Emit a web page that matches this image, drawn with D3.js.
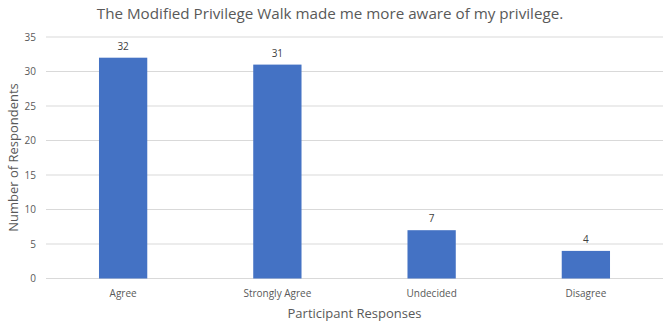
<!DOCTYPE html>
<html>
<head>
<meta charset="utf-8">
<script src="https://cdn.jsdelivr.net/npm/d3@7"></script>
<style>
html,body{margin:0;padding:0;background:#fff;}
svg{display:block;}
text{font-family:"Open Sans","Noto Sans",sans-serif;}
</style>
</head>
<body>
<svg id="chart" width="669" height="325"></svg>
<script>
const categories = ["Agree", "Strongly Agree", "Undecided", "Disagree"];
const values = [32, 31, 7, 4];
const yTicks = [0, 5, 10, 15, 20, 25, 30, 35];
const title = "The Modified Privilege Walk made me more aware of my privilege.";
const xTitle = "Participant Responses";
const yTitle = "Number of Respondents";

const svg = d3.select("#chart");
const m = {left: 46, right: 6, top: 37, bottom: 46.5};
const W = 669, H = 325;

const x = d3.scaleBand().domain(categories).range([m.left, W - m.right])
  .paddingInner(0.687).paddingOuter(0.3435);
const y = d3.scaleLinear().domain([0, 35]).range([H - m.bottom, m.top]);

// gridlines
svg.append("g").selectAll("line").data(yTicks).join("line")
  .attr("x1", m.left).attr("x2", W - m.right)
  .attr("y1", d => y(d)).attr("y2", d => y(d))
  .attr("stroke", "#d9d9d9").attr("stroke-width", 1);

// y tick labels
svg.append("g").selectAll("text").data(yTicks).join("text")
  .attr("x", 36).attr("y", d => y(d)).attr("dy", "0.35em")
  .attr("text-anchor", "end").attr("font-size", 10).attr("fill", "#595959")
  .text(d => d);

// bars
svg.append("g").selectAll("rect").data(values).join("rect")
  .attr("x", (d, i) => x(categories[i])).attr("width", x.bandwidth())
  .attr("y", d => y(d)).attr("height", d => y(0) - y(d))
  .attr("fill", "#4472c4");

// value labels
svg.append("g").selectAll("text").data(values).join("text")
  .attr("x", (d, i) => x(categories[i]) + x.bandwidth() / 2)
  .attr("y", d => y(d) - 8)
  .attr("text-anchor", "middle").attr("font-size", 10).attr("fill", "#404040")
  .text(d => d);

// category labels
svg.append("g").selectAll("text").data(categories).join("text")
  .attr("x", d => x(d) + x.bandwidth() / 2).attr("y", y(0) + 15).attr("dy", "0.35em")
  .attr("text-anchor", "middle").attr("font-size", 10).attr("fill", "#595959")
  .text(d => d);

// axis titles
svg.append("text").attr("x", (m.left + W - m.right) / 2).attr("y", 313).attr("dy", "0.35em")
  .attr("text-anchor", "middle").attr("font-size", 13).attr("fill", "#595959").text(xTitle);
svg.append("text").attr("transform", "translate(13.5,157.5) rotate(-90)").attr("dy", "0.35em")
  .attr("text-anchor", "middle").attr("font-size", 13).attr("fill", "#595959").text(yTitle);

// title
svg.append("text").attr("x", 330).attr("y", 13.5).attr("dy", "0.35em")
  .attr("text-anchor", "middle").attr("font-size", 15.2).attr("fill", "#595959").text(title);
</script>
</body>
</html>
